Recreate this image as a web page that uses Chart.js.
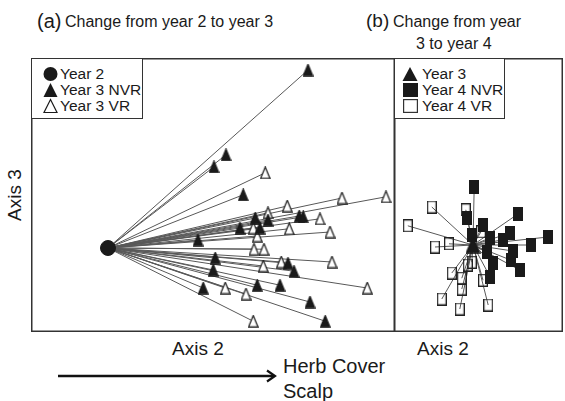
<!DOCTYPE html>
<html>
<head>
<meta charset="utf-8">
<script src="https://cdn.jsdelivr.net/npm/chart.js@4.4.1/dist/chart.umd.min.js"></script>
<style>
  body { margin: 0; background: #fff; font-family: "Liberation Sans", Arial, sans-serif; color: #1a1a1a; }
  #wrap { position: relative; width: 565px; height: 401px; overflow: hidden; }
  .abs { position: absolute; white-space: nowrap; }
  canvas { position: absolute; }
  .legend { position: absolute; background: #fff; border: 1.5px solid #333; font-size: 15.5px; line-height: 16px; box-sizing: border-box; white-space: nowrap; }
  .legend div { height: 16px; display: flex; align-items: center; }
  .legend svg { flex: none; }
</style>
</head>
<body>
<div id="wrap">
  <div class="abs" style="left:37px; top:10px; font-size:20px;">(a)</div>
  <div class="abs" style="left:65px; top:13px; font-size:16px;">Change from year 2 to year 3</div>
  <div class="abs" style="left:366px; top:10px; font-size:19px;">(b)</div>
  <div class="abs" style="left:393px; top:13px; font-size:16px;">Change from year</div>
  <div class="abs" style="left:416px; top:35px; font-size:16px;">3 to year 4</div>
  <div class="abs" style="left:-11px; top:184px; font-size:19px; transform: rotate(-90deg);">Axis 3</div>
  <div class="abs" style="left:172px; top:338px; font-size:19px;">Axis 2</div>
  <div class="abs" style="left:417px; top:338px; font-size:19px;">Axis 2</div>
  <div class="abs" style="left:283px; top:355px; font-size:20px;">Herb Cover</div>
  <div class="abs" style="left:283px; top:380px; font-size:20px;">Scalp</div>
  <svg class="abs" style="left:0; top:0;" width="565" height="401">
    <line x1="58" y1="376" x2="274" y2="376" stroke="#111" stroke-width="2.5"/>
    <polyline points="267,370.5 275,376 267,381.5" fill="none" stroke="#111" stroke-width="2.2"/>
  </svg>
  <canvas id="left" width="364" height="274" style="left:31px; top:58px;"></canvas>
  <canvas id="right" width="169" height="274" style="left:394px; top:58px;"></canvas>
  <div class="legend" style="left:31px; top:58px; width:112px; height:61px; padding:7px 0 0 11px;">
    <div><svg width="17" height="16"><circle cx="7.5" cy="8" r="7" fill="#1a1a1a"/></svg>Year 2</div>
    <div><svg width="17" height="16"><polygon points="7.5,1 14.5,15 0.5,15" fill="#1a1a1a"/></svg>Year 3 NVR</div>
    <div><svg width="17" height="16"><polygon points="7.5,1.5 14,14.5 1,14.5" fill="#fff" stroke="#1a1a1a" stroke-width="1.2"/></svg>Year 3 VR</div>
  </div>
  <div class="legend" style="left:394px; top:58px; width:111px; height:61px; padding:7px 0 0 7px;">
    <div><svg width="20" height="16"><polygon points="8,1 15.5,15 0.5,15" fill="#1a1a1a"/></svg>Year 3</div>
    <div><svg width="20" height="16"><rect x="1" y="1" width="15" height="14" fill="#1a1a1a"/></svg>Year 4 NVR</div>
    <div><svg width="20" height="16"><rect x="1.6" y="1.6" width="13.8" height="12.8" fill="#fff" stroke="#333" stroke-width="1.2"/></svg>Year 4 VR</div>
  </div>
</div>
<script>
// (a) year 2 centroid and year 3 positions
const year2Center = [0, 0];
const year3NvrX = [5.00, 2.95, 2.65, 3.38, 3.68, 4.00, 4.78, 4.88, 3.30, 3.80, 2.25, 2.68, 4.50, 4.65, 2.63, 2.38, 3.73, 4.30, 5.05, 5.43];
const year3NvrY = [4.45, 2.33, 2.03, 1.33, 0.75, 0.70, 0.80, 0.78, 0.50, 0.50, 0.20, -0.25, -0.38, -0.58, -0.55, -1.00, -0.93, -0.93, -1.35, -1.83];
const year3VrX = [3.93, 5.85, 6.95, 4.48, 4.00, 5.30, 3.63, 4.53, 5.55, 3.73, 3.65, 3.90, 4.33, 5.60, 3.88, 2.93, 3.45, 6.48, 3.63];
const year3VrY = [1.88, 1.25, 1.28, 1.05, 0.88, 0.73, 0.50, 0.48, 0.40, 0.30, -0.03, -0.03, -0.35, -0.35, -0.45, -1.00, -1.15, -1.00, -1.83];

// (b) year 3 centroid and year 4 positions
const year3Center = [0, 0];
const year4NvrX = [0.03, -0.15, 1.13, 0.25, -0.03, 0.43, 0.93, 0.75, 1.88, 1.45, 1.00, 0.95, 1.18, 0.50, 0.43, 0.35];
const year4NvrY = [1.45, 0.68, 0.78, 0.50, 0.25, 0.18, 0.30, 0.13, 0.20, 0.00, -0.15, -0.38, -0.63, -0.45, -0.80, -0.18];
const year4VrX = [-1.03, -0.18, -1.63, 0.20, -0.60, -0.95, -0.03, -0.13, -0.53, -0.28, 0.25, -0.28, -0.78, 0.38, -0.33];
const year4VrY = [0.95, 0.88, 0.48, 0.33, 0.03, -0.05, -0.43, -0.50, -0.70, -0.83, -0.88, -1.10, -1.35, -1.50, -1.60];

const ink = '#1a1a1a';
const lineGrey = '#585858';

const makeMarker = (w, h, draw) => {
  const c = document.createElement('canvas');
  c.width = w;
  c.height = h;
  draw(c.getContext('2d'), w, h);
  return c;
};

const triangle = (w, h, filled) => makeMarker(w, h, (ctx) => {
  ctx.beginPath();
  ctx.moveTo(w / 2, 0.8);
  ctx.lineTo(w - 0.8, h - 0.8);
  ctx.lineTo(0.8, h - 0.8);
  ctx.closePath();
  ctx.fillStyle = filled ? ink : '#fff';
  ctx.fill();
  ctx.lineWidth = 1.2;
  ctx.strokeStyle = ink;
  ctx.stroke();
});

const box = (w, h, filled) => makeMarker(w, h, (ctx) => {
  if (filled) {
    ctx.fillStyle = ink;
    ctx.fillRect(0, 0, w, h);
  } else {
    ctx.lineWidth = 1.3;
    ctx.strokeStyle = '#222';
    ctx.strokeRect(0.65, 0.65, w - 1.3, h - 1.3);
  }
});

const toPoints = (xs, ys) => xs.map((x, i) => ({ x, y: ys[i] }));

const spokes = (center, groups) => {
  const data = [];
  groups.forEach((pts) => {
    pts.forEach((p) => {
      data.push({ x: center[0], y: center[1] }, p, { x: null, y: null });
    });
  });
  return data;
};

const framePlugin = {
  id: 'frame',
  afterDatasetsDraw(chart) {
    const { ctx, width, height } = chart;
    ctx.save();
    ctx.lineWidth = 1.5;
    ctx.strokeStyle = '#333';
    ctx.strokeRect(0.75, 0.75, width - 1.5, height - 1.5);
    ctx.restore();
  },
};

const renderPanel = (canvas, center, centerStyle, groups, xRange, yRange) => {
  const markerSets = groups.map((g) => ({
    data: g.points,
    pointStyle: g.style,
    pointRadius: 7,
    showLine: false,
    order: 1,
  }));
  new Chart(canvas, {
    type: 'scatter',
    data: {
      datasets: [
        {
          data: [{ x: center[0], y: center[1] }],
          pointStyle: centerStyle,
          pointRadius: 7.5,
          backgroundColor: ink,
          borderColor: ink,
          showLine: false,
          order: 0,
        },
        ...markerSets,
        {
          data: spokes(center, groups.map((g) => g.points)),
          showLine: true,
          spanGaps: false,
          borderColor: lineGrey,
          borderWidth: 1,
          pointRadius: 0,
          order: 5,
        },
      ],
    },
    options: {
      responsive: false,
      animation: false,
      layout: { padding: 0, autoPadding: false },
      scales: {
        x: { type: 'linear', display: false, min: xRange[0], max: xRange[1] },
        y: { type: 'linear', display: false, min: yRange[0], max: yRange[1] },
      },
      plugins: { legend: { display: false }, tooltip: { enabled: false } },
    },
    plugins: [framePlugin],
  });
};

renderPanel(
  document.getElementById('left'),
  year2Center,
  'circle',
  [
    { points: toPoints(year3NvrX, year3NvrY), style: triangle(11, 13, true) },
    { points: toPoints(year3VrX, year3VrY), style: triangle(11, 13, false) },
  ],
  [-1.925, 7.175],
  [-2.1, 4.75]
);

renderPanel(
  document.getElementById('right'),
  year3Center,
  triangle(15, 17, true),
  [
    { points: toPoints(year4NvrX, year4NvrY), style: box(10, 14, true) },
    { points: toPoints(year4VrX, year4VrY), style: box(10, 13, false) },
  ],
  [-1.975, 2.25],
  [-2.175, 4.675]
);
</script>
</body>
</html>
